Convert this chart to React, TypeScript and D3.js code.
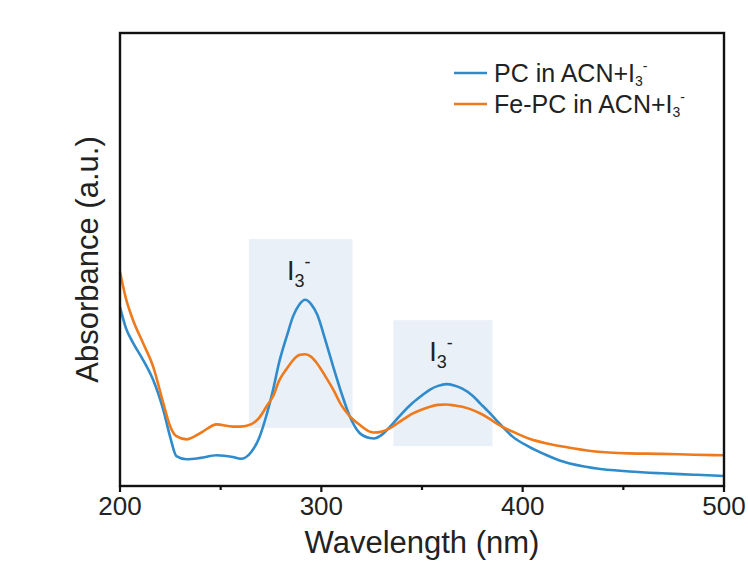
import * as React from "react";
import * as d3 from "d3";

// wavelength (nm) sample points
const wavelength = [200, 203, 206.5, 211.5, 216.5, 221.5, 225, 228, 233, 240, 248, 256, 260, 265, 269, 273, 276, 279, 283, 286, 289, 292, 295, 298, 302, 306, 310, 314, 319, 324, 326, 330, 335, 340, 345, 350, 354, 358, 362, 366, 370, 375, 379, 383, 387, 391, 395, 403, 412, 420, 436, 453, 469, 485, 500];
const pcAbs = [0.395, 0.348, 0.316, 0.278, 0.234, 0.168, 0.107, 0.066, 0.059, 0.062, 0.068, 0.064, 0.06, 0.074, 0.105, 0.16, 0.212, 0.272, 0.333, 0.375, 0.4, 0.411, 0.401, 0.378, 0.322, 0.262, 0.205, 0.155, 0.117, 0.106, 0.105, 0.113, 0.135, 0.16, 0.182, 0.2, 0.213, 0.221, 0.225, 0.222, 0.215, 0.2, 0.182, 0.164, 0.145, 0.126, 0.109, 0.087, 0.068, 0.054, 0.039, 0.032, 0.028, 0.025, 0.022];
const fepcAbs = [0.473, 0.413, 0.366, 0.315, 0.263, 0.183, 0.131, 0.11, 0.103, 0.117, 0.136, 0.131, 0.131, 0.136, 0.15, 0.177, 0.198, 0.232, 0.26, 0.278, 0.289, 0.291, 0.285, 0.27, 0.242, 0.212, 0.178, 0.155, 0.135, 0.12, 0.118, 0.12, 0.13, 0.145, 0.159, 0.169, 0.175, 0.179, 0.18, 0.178, 0.175, 0.168, 0.16, 0.15, 0.138, 0.128, 0.12, 0.105, 0.094, 0.087, 0.076, 0.072, 0.071, 0.069, 0.068];

const seriesNames = ["PC in ACN+I", "Fe-PC in ACN+I"];
const seriesColors = ["#2f8bcb", "#ee7a1c"];

const xTicks = [200, 300, 400, 500];
const xMinorTicks = [250, 350, 450];

// shaded I3- bands: [x0, x1, yTop, yBottom] in data units
const bands = [
  [264, 315.5, 0.545, 0.128],
  [335.8, 385, 0.366, 0.088],
];

const W = 748;
const H = 565;
const left = 120, right = 724, top = 33, bottom = 486;
const font = "Arial, 'Liberation Sans', sans-serif";

const x = d3.scaleLinear().domain([200, 500]).range([left, right]);
const y = d3.scaleLinear().domain([0, 1]).range([bottom, top]);

function I3({ cx, baseline }: { cx: number; baseline: number }) {
  return (
    <text x={cx} y={baseline} fontFamily={font} fontSize={27} textAnchor="middle" fill="#222">
      I<tspan fontSize={18} dy={7}>3</tspan>
      <tspan fontSize={18} dy={-19}>-</tspan>
    </text>
  );
}

const App = () => {
  const line = d3
    .line<number>()
    .x((_, i) => x(wavelength[i]))
    .y((d) => y(d))
    .curve(d3.curveMonotoneX);

  const series = [pcAbs, fepcAbs];

  return (
    <svg width={W} height={H} style={{ position: "absolute", left: 0, top: 0, background: "#fff" }}>
      {bands.map((b, i) => (
        <rect
          key={i}
          x={x(b[0])}
          y={y(b[2])}
          width={x(b[1]) - x(b[0])}
          height={y(b[3]) - y(b[2])}
          fill="#eaf0f8"
        />
      ))}
      <I3 cx={x((bands[0][0] + bands[0][1]) / 2) - 2} baseline={y(bands[0][2]) + 41} />
      <I3 cx={x((bands[1][0] + bands[1][1]) / 2) - 2} baseline={y(bands[1][2]) + 41} />

      {series.map((s, i) => (
        <path key={i} d={line(s) || ""} fill="none" stroke={seriesColors[i]} strokeWidth={2.6} strokeLinejoin="round" />
      ))}

      {/* frame */}
      <rect x={left} y={top} width={right - left} height={bottom - top} fill="none" stroke="#111" strokeWidth={2.4} />

      {xTicks.map((t) => (
        <g key={t}>
          <line x1={x(t)} x2={x(t)} y1={bottom} y2={bottom + 6} stroke="#111" strokeWidth={2.2} />
          <text x={x(t)} y={bottom + 29} fontFamily={font} fontSize={26} textAnchor="middle" fill="#222">
            {t}
          </text>
        </g>
      ))}
      {xMinorTicks.map((t) => (
        <line key={t} x1={x(t)} x2={x(t)} y1={bottom} y2={bottom + 4} stroke="#111" strokeWidth={2.2} />
      ))}

      <text x={(left + right) / 2} y={553} fontFamily={font} fontSize={31} textAnchor="middle" fill="#222">
        Wavelength (nm)
      </text>
      <text
        transform={`translate(98, ${(top + bottom) / 2}) rotate(-90)`}
        fontFamily={font}
        fontSize={31}
        textAnchor="middle"
        fill="#222"
      >
        Absorbance (a.u.)
      </text>

      {/* legend */}
      {seriesNames.map((n, i) => (
        <g key={n} transform={`translate(454, ${73 + i * 31})`}>
          <line x1={0} x2={33} y1={0} y2={0} stroke={seriesColors[i]} strokeWidth={2.6} />
          <text x={40} y={9} fontFamily={font} fontSize={25} fill="#222">
            {n}
            <tspan fontSize={14} dy={4}>3</tspan>
            <tspan fontSize={14} dy={-15}>-</tspan>
          </text>
        </g>
      ))}
    </svg>
  );
};

export default App;
